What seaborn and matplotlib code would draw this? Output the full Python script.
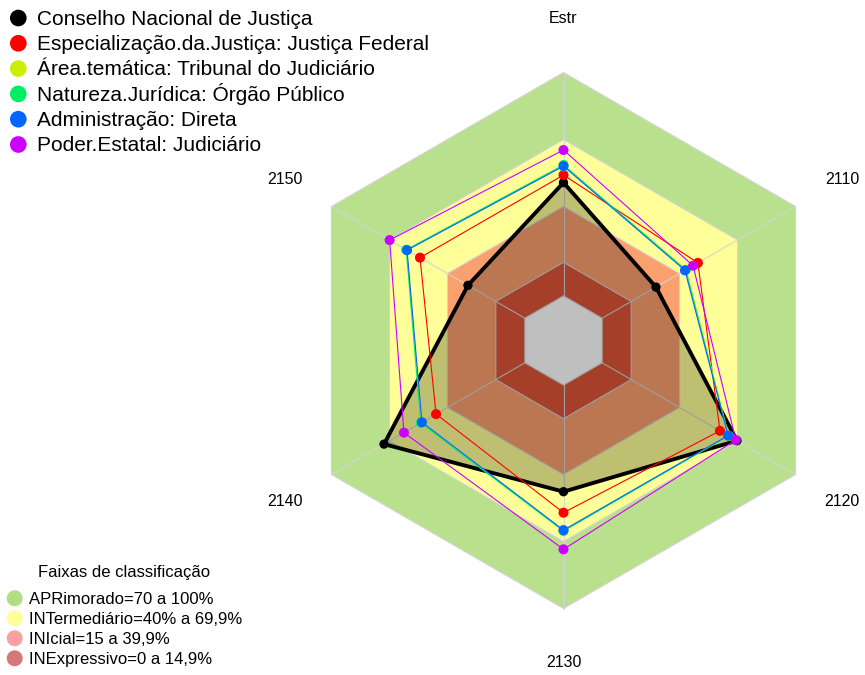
import numpy as np
import pandas as pd
import matplotlib
matplotlib.use("Agg")
import matplotlib.pyplot as plt
import seaborn as sns

# ---------------- data ----------------
axis_labels = ["Estr", "2110", "2120", "2130", "2140", "2150"]

series_names = [
    "Conselho Nacional de Justiça",
    "Especialização.da.Justiça: Justiça Federal",
    "Área.temática: Tribunal do Judiciário",
    "Natureza.Jurídica: Órgão Público",
    "Administração: Direta",
    "Poder.Estatal: Judiciário",
]
cnj = [50.7, 27.8, 69.7, 47.7, 72.8, 29.4]
justica_federal = [54.1, 49.5, 60.9, 57.1, 45.9, 54.2]
area_tematica = [58.0, 43.4, 65.4, 65.0, 53.5, 61.0]
natureza_juridica = [58.6, 43.2, 65.3, 65.3, 53.8, 61.3]
administracao = [58.1, 42.8, 65.1, 64.9, 53.2, 60.9]
poder_estatal = [65.3, 47.0, 69.1, 73.5, 62.5, 69.9]

series_values = [cnj, justica_federal, area_tematica, natureza_juridica,
                 administracao, poder_estatal]
series_colors = ["#000000", "#FF0000", "#CCEE00", "#00EE66", "#0066FF", "#CC00FF"]

band_title = "Faixas de classificação"
band_names = ["APRimorado=70 a 100%", "INTermediário=40% a 69,9%",
              "INIcial=15 a 39,9%", "INExpressivo=0 a 14,9%"]
band_upper = [100, 70, 40, 15]
band_colors = ["#B9E08C", "#FFFF99", "#F9A06E", "#DE5538"]
band_legend_colors = ["#B4DC82", "#FFFF9A", "#F9A0A0", "#D47878"]

HOLE = 20  # inner empty radius in value units

# ---------------- figure ----------------
sns.set_theme(style="white")
plt.rcParams["font.family"] = ["Liberation Sans", "DejaVu Sans"]
plt.rcParams["text.color"] = "black"

W, H = 865, 675
fig = plt.figure(figsize=(W / 100, H / 100), dpi=100)
ax = fig.add_axes([0, 0, 1, 1])
s = 268 / 120.0  # px per unit
cx, cy = 563.5, 340.5
ax.set_xlim(-cx / s, (W - cx) / s)
ax.set_ylim(-(H - cy) / s, cy / s)
ax.axis("off")

theta = np.deg2rad(90 - 60 * np.arange(len(axis_labels)))


def hexagon(r):
    t = np.append(theta, theta[0])
    return r * np.cos(t), r * np.sin(t)


# bands
for up, col in zip(band_upper, band_colors):
    hx, hy = hexagon(up + HOLE)
    ax.fill(hx, hy, color=col, lw=0, zorder=0)
hx, hy = hexagon(HOLE)
ax.fill(hx, hy, color="white", lw=0, zorder=0)

# grid rings and spokes
for v in [0] + sorted(band_upper):
    hx, hy = hexagon(v + HOLE)
    ax.plot(hx, hy, color="#D4D4D4", lw=0.8, zorder=1)
for t in theta:
    ax.plot([HOLE * np.cos(t), (100 + HOLE) * np.cos(t)],
            [HOLE * np.sin(t), (100 + HOLE) * np.sin(t)],
            color="#D4D4D4", lw=0.8, zorder=1)

# series
for i, (name, vals, col) in enumerate(zip(series_names, series_values, series_colors)):
    r = np.array(vals) + HOLE
    x = np.append(r * np.cos(theta), r[0] * np.cos(theta[0]))
    y = np.append(r * np.sin(theta), r[0] * np.sin(theta[0]))
    df = pd.DataFrame({"x": x, "y": y})
    z = 3 + i
    if i == 0:
        ax.fill(x, y, color="black", alpha=0.25, lw=0, zorder=2)
        lw, ms = 2.8, 45
    else:
        lw, ms = 0.8, 52
    sns.lineplot(data=df, x="x", y="y", sort=False, estimator=None, color=col,
                 lw=lw, ax=ax, zorder=z, legend=False)
    sns.scatterplot(data=df.iloc[:-1], x="x", y="y", color=col, s=ms,
                    edgecolor="none", ax=ax, zorder=z + 0.5, legend=False)

# axis labels
for lab, t in zip(axis_labels, theta):
    rl = 144
    ax.text(rl * np.cos(t), rl * np.sin(t), lab, ha="center", va="center",
            fontsize=11.5, color="black")

ax.set_xlabel("")
ax.set_ylabel("")

# ---------------- legends (overlay in pixel coordinates) ----------------
lax = fig.add_axes([0, 0, 1, 1], facecolor="none")
lax.set_xlim(0, W)
lax.set_ylim(H, 0)
lax.axis("off")

# series legend
for i, (name, col) in enumerate(zip(series_names, series_colors)):
    yy = 18 + 25.3 * i
    lax.scatter([18.3], [yy], s=12 ** 2, color=col, edgecolor="none")
    lax.text(36.7, yy + 6.7, name, ha="left", va="baseline", fontsize=15,
             color="black")

# band legend
lax.text(124, 572, band_title, ha="center", va="center", fontsize=12,
         color="black")
for i, (name, col) in enumerate(zip(band_names, band_legend_colors)):
    yy = 598.3 + 20 * i
    lax.scatter([14.7], [yy], s=11.5 ** 2, color=col, edgecolor="none")
    lax.text(29.3, yy + 5.6, name, ha="left", va="baseline", fontsize=12,
             color="black")

fig.savefig("out.png", dpi=100)
